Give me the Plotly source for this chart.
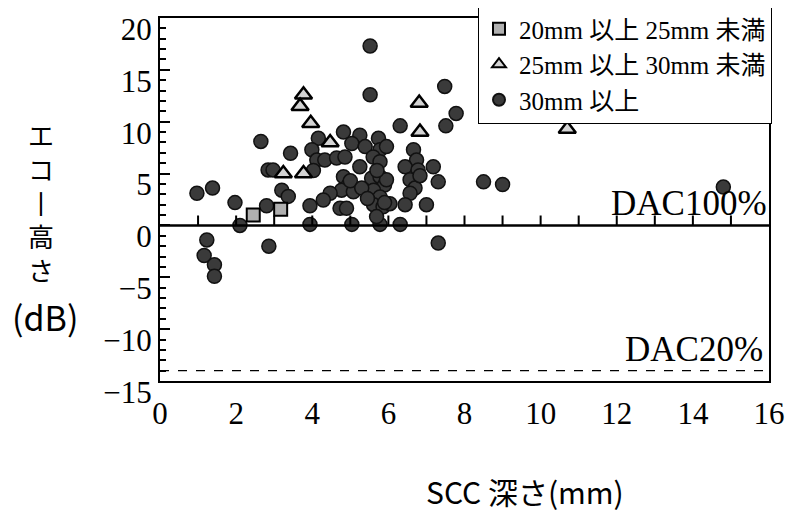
import plotly.graph_objects as go

# ---- data (SCC depth mm, echo height dB) ----
sq_x = [2.45, 3.17]
sq_y = [1.0, 1.55]

tri_x = [3.77, 3.68, 3.96, 4.47, 3.24, 3.77, 6.81, 6.83, 10.7]
tri_y = [12.6, 11.5, 9.85, 8.0, 5.0, 5.0, 11.8, 9.0, 9.3]

circ_x = [0.97, 1.38, 1.23, 1.16, 1.43, 1.43, 1.97, 2.1, 2.8, 2.86,
          2.84, 2.97, 3.2, 3.37, 3.43, 2.65, 3.94, 3.94, 5.52, 5.52,
          4.16, 4.82, 5.25, 5.74, 5.04, 5.39, 5.78, 3.99, 4.12, 4.03,
          4.33, 4.64, 4.86, 5.6, 5.78, 5.25, 6.66, 6.74, 6.44, 6.78,
          4.82, 4.95, 4.77, 5.08, 5.56, 5.78, 5.9, 5.61, 5.78, 6.57,
          6.70, 6.57, 4.47, 4.29, 4.73, 4.9, 5.61, 5.86, 6.04, 6.44,
          7.0, 5.04, 5.78, 6.31, 5.69, 6.31, 7.18, 7.31, 7.48, 7.78,
          7.51, 8.5, 9.0, 7.31, 14.8, 5.95, 5.95, 6.83, 5.0, 5.3,
          5.7, 5.9, 5.45]
circ_y = [3.1, 3.6, -1.4, -2.9, -3.8, -4.9, 2.2, 0.0, 1.9, -2.0,
          5.35, 5.35, 3.4, 2.8, 6.95, 8.1, 1.9, 0.1, 17.3, 12.6,
          8.4, 9.0, 8.7, 8.4, 7.9, 7.6, 7.3, 7.3, 6.3, 5.3,
          6.3, 6.5, 6.6, 6.6, 6.15, 5.65, 7.3, 6.3, 5.65, 5.35,
          4.7, 3.9, 3.4, 3.25, 4.55, 4.7, 3.9, 3.4, 2.75, 4.4,
          3.6, 3.1, 3.1, 2.45, 1.65, 1.65, 2.0, 1.8, 2.1, 2.0,
          2.0, 0.1, 0.1, 0.1, 0.85, 9.6, 5.65, 4.2, 13.4, 10.8,
          9.6, 4.2, 3.95, -1.7, 3.7, 7.6, 4.4, 4.8, 4.3, 3.6,
          5.3, 2.2, 2.6]

series_names = ["20mm 以上 25mm 未満", "25mm 以上 30mm 未満", "30mm 以上"]
x_ticks = [0, 2, 4, 6, 8, 10, 12, 14, 16]
y_ticks = [20, 15, 10, 5, 0, -5, -10, -15]
DAC100_DB = 0
DAC20_DB = -14
X_RANGE = [0, 16]
Y_RANGE = [-15, 20]

serif = "Liberation Serif, Noto Sans CJK JP, serif"
sans = "Noto Sans CJK JP, Liberation Sans, sans-serif"

# The page body adds an 8px offset; plot area should land at page x 160-769, y 18-381.
FIG_W, FIG_H = 788, 504
PL, PT = 152, 10
PW, PH = 609, 363
DB_PER_PX = (Y_RANGE[1] - Y_RANGE[0]) / PH

fig = go.Figure()

fig.add_trace(go.Scatter(
    x=circ_x, y=circ_y, mode="markers", name=series_names[2], legendrank=3,
    marker=dict(symbol="circle", size=14, color="#3a3a3a",
                line=dict(color="#111", width=1.5))))
fig.add_trace(go.Scatter(
    x=tri_x, y=tri_y, mode="markers", name=series_names[1], legendrank=2,
    marker=dict(symbol="triangle-up", size=15, color="#d4d4d4",
                line=dict(color="black", width=2.5))))
fig.add_trace(go.Scatter(
    x=sq_x, y=sq_y, mode="markers", name=series_names[0], legendrank=1,
    marker=dict(symbol="square", size=13, color="#b0b0b0",
                line=dict(color="black", width=2))))

# DAC100% reference line with small upward tick marks at every 1 mm
fig.add_shape(type="line", xref="x", yref="y", x0=X_RANGE[0], x1=X_RANGE[1],
              y0=DAC100_DB, y1=DAC100_DB, line=dict(color="black", width=2.5))
ref_ticks_x = list(range(X_RANGE[0] + 1, X_RANGE[1]))
tick_top = DAC100_DB + 10 * DB_PER_PX
tick_path = " ".join(f"M{x},{DAC100_DB} L{x},{tick_top}" for x in ref_ticks_x)
fig.add_shape(type="path", xref="x", yref="y", path=tick_path,
              line=dict(color="black", width=2))

fig.update_layout(
    width=FIG_W, height=FIG_H,
    margin=dict(l=PL, r=FIG_W - PL - PW, t=PT, b=FIG_H - PT - PH, autoexpand=False),
    plot_bgcolor="white", paper_bgcolor="white",
    showlegend=True,
    legend=dict(x=(478 - 160) / PW, y=(381 - 5) / PH, xanchor="left", yanchor="top",
                bordercolor="black", borderwidth=1, bgcolor="white",
                font=dict(family=serif, size=25, color="black"),
                tracegroupgap=0, itemsizing="constant"),
    xaxis=dict(range=X_RANGE, tickvals=x_ticks, ticks="", showgrid=False, zeroline=False,
               showline=True, linewidth=2, linecolor="black", mirror=True,
               tickfont=dict(family=serif, size=31, color="black"),
               ticklabelstandoff=4),
    yaxis=dict(range=Y_RANGE, tickvals=y_ticks, ticks="inside", ticklen=10, tickwidth=2,
               tickcolor="black",
               minor=dict(dtick=1, ticks="inside", ticklen=6, tickwidth=1.5, tickcolor="black"),
               showgrid=False, zeroline=False, showline=True, linewidth=2,
               linecolor="black", mirror=True,
               tickfont=dict(family=serif, size=31, color="black"),
               ticklabelshift=11),
)

# DAC20% dashed line
fig.add_shape(type="line", xref="x", yref="y", x0=X_RANGE[0], x1=X_RANGE[1],
              y0=DAC20_DB, y1=DAC20_DB, line=dict(color="black", width=1.2, dash="dash"))

fig.add_annotation(text="DAC100%", x=X_RANGE[1], y=DAC100_DB, xref="x", yref="y",
                   xanchor="right", yanchor="bottom", yshift=0, showarrow=False,
                   font=dict(family=serif, size=35, color="black"))
fig.add_annotation(text="DAC20%", x=X_RANGE[1], y=DAC20_DB, xref="x", yref="y",
                   xanchor="right", yanchor="bottom", xshift=-4, yshift=0, showarrow=False,
                   font=dict(family=serif, size=35, color="black"))

# y-axis title, vertical Japanese text
fig.add_annotation(text="エ<br>コ<br>丨<br>高<br>さ", xref="paper", yref="paper",
                   x=0, xshift=41 - 160, y=(381 - 202) / PH,
                   xanchor="center", yanchor="middle", showarrow=False,
                   font=dict(family=sans, size=26, color="black"))
fig.add_annotation(text="(dB)", xref="paper", yref="paper", x=0, xshift=45 - 160,
                   y=(381 - 316) / PH, xanchor="center", yanchor="middle",
                   showarrow=False, font=dict(family=sans, size=34, color="black"))

# x-axis title
fig.add_annotation(text="SCC 深さ(mm)", xref="paper", yref="paper",
                   x=(525 - 160) / PW, y=(381 - 491) / PH,
                   xanchor="center", yanchor="middle", showarrow=False,
                   font=dict(family=sans, size=30, color="black"))

fig.write_html("out.html")
